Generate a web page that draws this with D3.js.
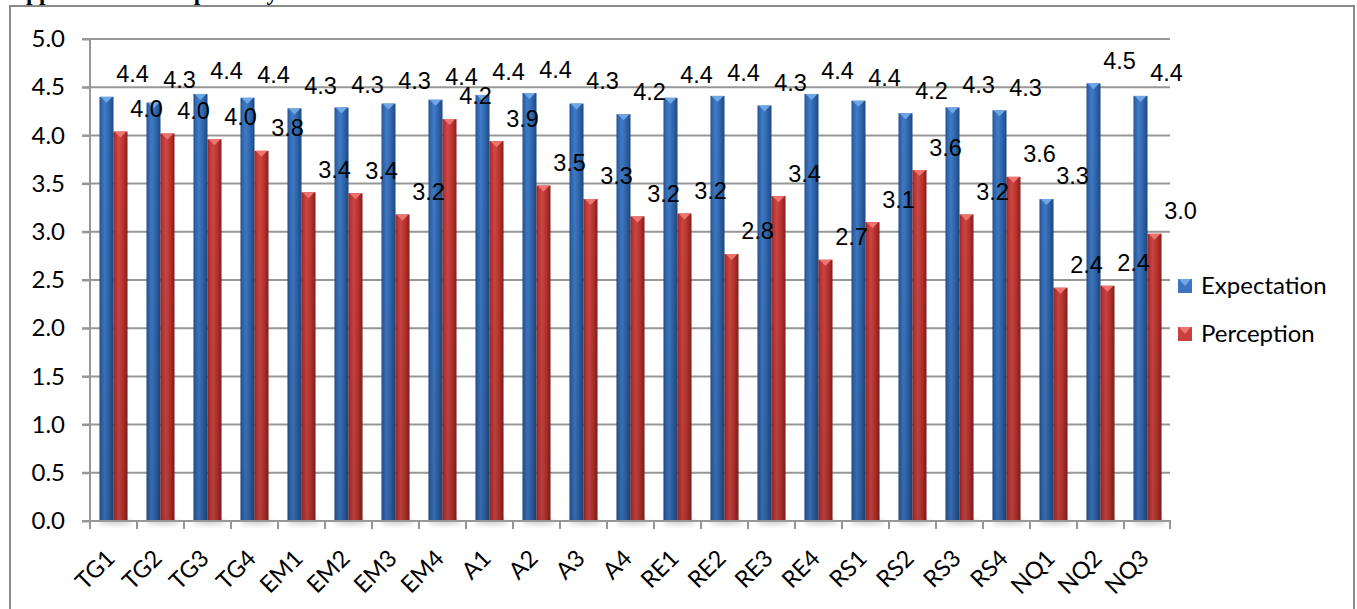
<!DOCTYPE html>
<html>
<head>
<meta charset="utf-8">
<script src="https://cdn.jsdelivr.net/npm/d3@7"></script>
<style>
  html, body { margin: 0; padding: 0; background: #ffffff; }
  svg { display: block; }
</style>
</head>
<body>
<svg id="chart" width="1357" height="609"></svg>
<script>
// Service quality items: mean expectation vs. mean perception scores
const categories = ["TG1","TG2","TG3","TG4","EM1","EM2","EM3","EM4","A1","A2","A3","A4",
                    "RE1","RE2","RE3","RE4","RS1","RS2","RS3","RS4","NQ1","NQ2","NQ3"];
const expectation = [4.40,4.34,4.43,4.39,4.28,4.29,4.33,4.37,4.42,4.44,4.33,4.22,
                     4.39,4.41,4.31,4.43,4.36,4.23,4.29,4.26,3.34,4.54,4.41];
const perception  = [4.04,4.02,3.96,3.84,3.41,3.40,3.18,4.17,3.94,3.48,3.34,3.16,
                     3.19,2.77,3.37,2.71,3.10,3.64,3.18,3.57,2.42,2.44,2.98];
const seriesNames = ["Expectation","Perception"];
const yTicks = [0,0.5,1,1.5,2,2.5,3,3.5,4,4.5,5];
const titleText = "Appendix IV: Gap Analysis";

const svg = d3.select("#chart");
const plot = {left: 90, right: 1171, top: 39, bottom: 521};

const x = d3.scaleBand().domain(categories).range([plot.left, plot.right]).padding(0);
const y = d3.scaleLinear().domain([0, 5]).range([plot.bottom, plot.top]);
const barW = 14;

// gradients giving the columns their rounded, lit look
const defs = svg.append("defs");
function sideGradient(id, stops) {
  const g = defs.append("linearGradient").attr("id", id)
    .attr("x1", "0%").attr("x2", "100%").attr("y1", "0%").attr("y2", "0%");
  stops.forEach(([o, c]) => g.append("stop").attr("offset", o).attr("stop-color", c));
}
sideGradient("gBlue", [["0%","#22508c"],["12%","#3067b2"],["38%","#427fcd"],["70%","#3066ae"],["100%","#1f4a82"]]);
sideGradient("gRed",  [["0%","#962424"],["12%","#c03634"],["38%","#d84a46"],["70%","#c1352f"],["100%","#8c2020"]]);
const shade = defs.append("linearGradient").attr("id", "gShade")
  .attr("gradientUnits", "userSpaceOnUse")
  .attr("x1", 0).attr("x2", 0).attr("y1", plot.top).attr("y2", plot.bottom);
shade.append("stop").attr("offset", "0%").attr("stop-color", "#000").attr("stop-opacity", 0);
shade.append("stop").attr("offset", "100%").attr("stop-color", "#000").attr("stop-opacity", 0.16);
const blur = defs.append("filter").attr("id", "soft").attr("x", "-50%").attr("y", "-50%").attr("width", "200%").attr("height", "200%");
blur.append("feGaussianBlur").attr("stdDeviation", 2.5);

const fills = ["url(#gBlue)", "url(#gRed)"];
const capFills = ["#6fa6e6", "#ee7472"];
const legendFills = ["#3d74bd", "#c9403c"];

// chart frame
svg.append("rect").attr("x", 10).attr("y", 6).attr("width", 1344).attr("height", 620)
  .attr("fill", "none").attr("stroke", "#8a8a8a").attr("stroke-width", 2);

// title line sitting above the frame
svg.append("text").attr("x", 9).attr("y", 0)
  .attr("font-family", "Liberation Serif, serif").attr("font-weight", "bold")
  .attr("font-size", 23.4).attr("word-spacing", 7).attr("fill", "#000").text(titleText);

// horizontal gridlines
svg.append("g").selectAll("line").data(yTicks.filter(d => d > 0)).join("line")
  .attr("x1", plot.left - 8).attr("x2", plot.right - 1)
  .attr("y1", d => y(d)).attr("y2", d => y(d))
  .attr("stroke", "#979797").attr("stroke-width", 2);

// y axis
const yAxis = svg.append("g").attr("transform", `translate(${plot.left},0)`)
  .call(d3.axisLeft(y).tickValues(yTicks).tickFormat(d3.format(".1f")).tickSize(8).tickPadding(17));
yAxis.select(".domain").attr("stroke", "#979797").attr("stroke-width", 2).attr("d", `M0,${plot.top}V${plot.bottom}`);
yAxis.selectAll(".tick line").attr("stroke", "#979797").attr("stroke-width", 2);
yAxis.selectAll(".tick text").attr("font-family", "Lato, sans-serif").attr("font-size", 24).attr("fill", "#000");

// soft floor shadow under each column pair
svg.append("g").selectAll("ellipse").data(categories).join("ellipse")
  .attr("cx", d => x(d) + x.bandwidth() / 2 + 2).attr("cy", plot.bottom + 1)
  .attr("rx", 17).attr("ry", 3).attr("fill", "#000").attr("opacity", 0.18)
  .attr("filter", "url(#soft)");

// columns
const seriesData = [expectation, perception];
seriesData.forEach((vals, s) => {
  const g = svg.append("g");
  const rows = categories.map((c, i) => ({c, v: vals[i], x0: x(c) + x.bandwidth() / 2 - barW + s * barW}));
  g.selectAll("rect.body").data(rows).join("rect").attr("class", "body")
    .attr("x", d => d.x0).attr("y", d => y(d.v)).attr("width", barW)
    .attr("height", d => y(0) - y(d.v)).attr("fill", fills[s]);
  g.selectAll("rect.shade").data(rows).join("rect").attr("class", "shade")
    .attr("x", d => d.x0).attr("y", d => y(d.v)).attr("width", barW)
    .attr("height", d => y(0) - y(d.v)).attr("fill", "url(#gShade)");
  g.selectAll("path.cap").data(rows).join("path").attr("class", "cap")
    .attr("d", d => `M${d.x0 + 1},${y(d.v)}L${d.x0 + barW - 1},${y(d.v)}L${d.x0 + barW / 2},${y(d.v) + 6}Z`)
    .attr("fill", capFills[s]);
});

// value labels, offset up and to the right of each column top
const fmt = d3.format(".1f");
seriesData.forEach((vals, s) => {
  svg.append("g").selectAll("text").data(categories.map((c, i) => ({c, v: vals[i]}))).join("text")
    .attr("x", d => x(d.c) + x.bandwidth() / 2 - barW / 2 + s * barW + 26)
    .attr("y", d => y(d.v) - 23)
    .attr("dy", "0.36em")
    .attr("text-anchor", "middle")
    .attr("font-family", "Liberation Sans, Arial, sans-serif").attr("font-size", 23.5)
    .attr("fill", "#000").text(d => fmt(d.v));
});

// x axis with boundary ticks
svg.append("line").attr("x1", plot.left - 8).attr("x2", plot.right)
  .attr("y1", plot.bottom).attr("y2", plot.bottom)
  .attr("stroke", "#979797").attr("stroke-width", 2);
svg.append("g").selectAll("line").data(categories.map(c => x(c)).concat([plot.right - 1])).join("line")
  .attr("x1", d => d).attr("x2", d => d).attr("y1", plot.bottom).attr("y2", plot.bottom + 8)
  .attr("stroke", "#979797").attr("stroke-width", 2);
svg.append("g").selectAll("text").data(categories).join("text")
  .attr("transform", d => `translate(${x(d) + x.bandwidth() / 2 - 3},${plot.bottom + 33}) rotate(-45)`)
  .attr("text-anchor", "end").attr("dy", "0.35em")
  .attr("font-family", "Lato, sans-serif").attr("font-size", 23.5).attr("fill", "#000")
  .text(d => d);

// legend
const legend = svg.append("g");
seriesNames.forEach((name, s) => {
  const ly = 286 + s * 48;
  legend.append("rect").attr("x", 1178).attr("y", ly - 7).attr("width", 14).attr("height", 14)
    .attr("fill", legendFills[s]);
  legend.append("path").attr("d", `M1179,${ly - 7}L1191,${ly - 7}L1185,${ly}Z`).attr("fill", capFills[s]);
  legend.append("text").attr("x", 1201).attr("y", ly).attr("dy", "0.35em")
    .attr("font-family", "Lato, sans-serif").attr("font-size", 24).attr("fill", "#000").text(name);
});
</script>
</body>
</html>
